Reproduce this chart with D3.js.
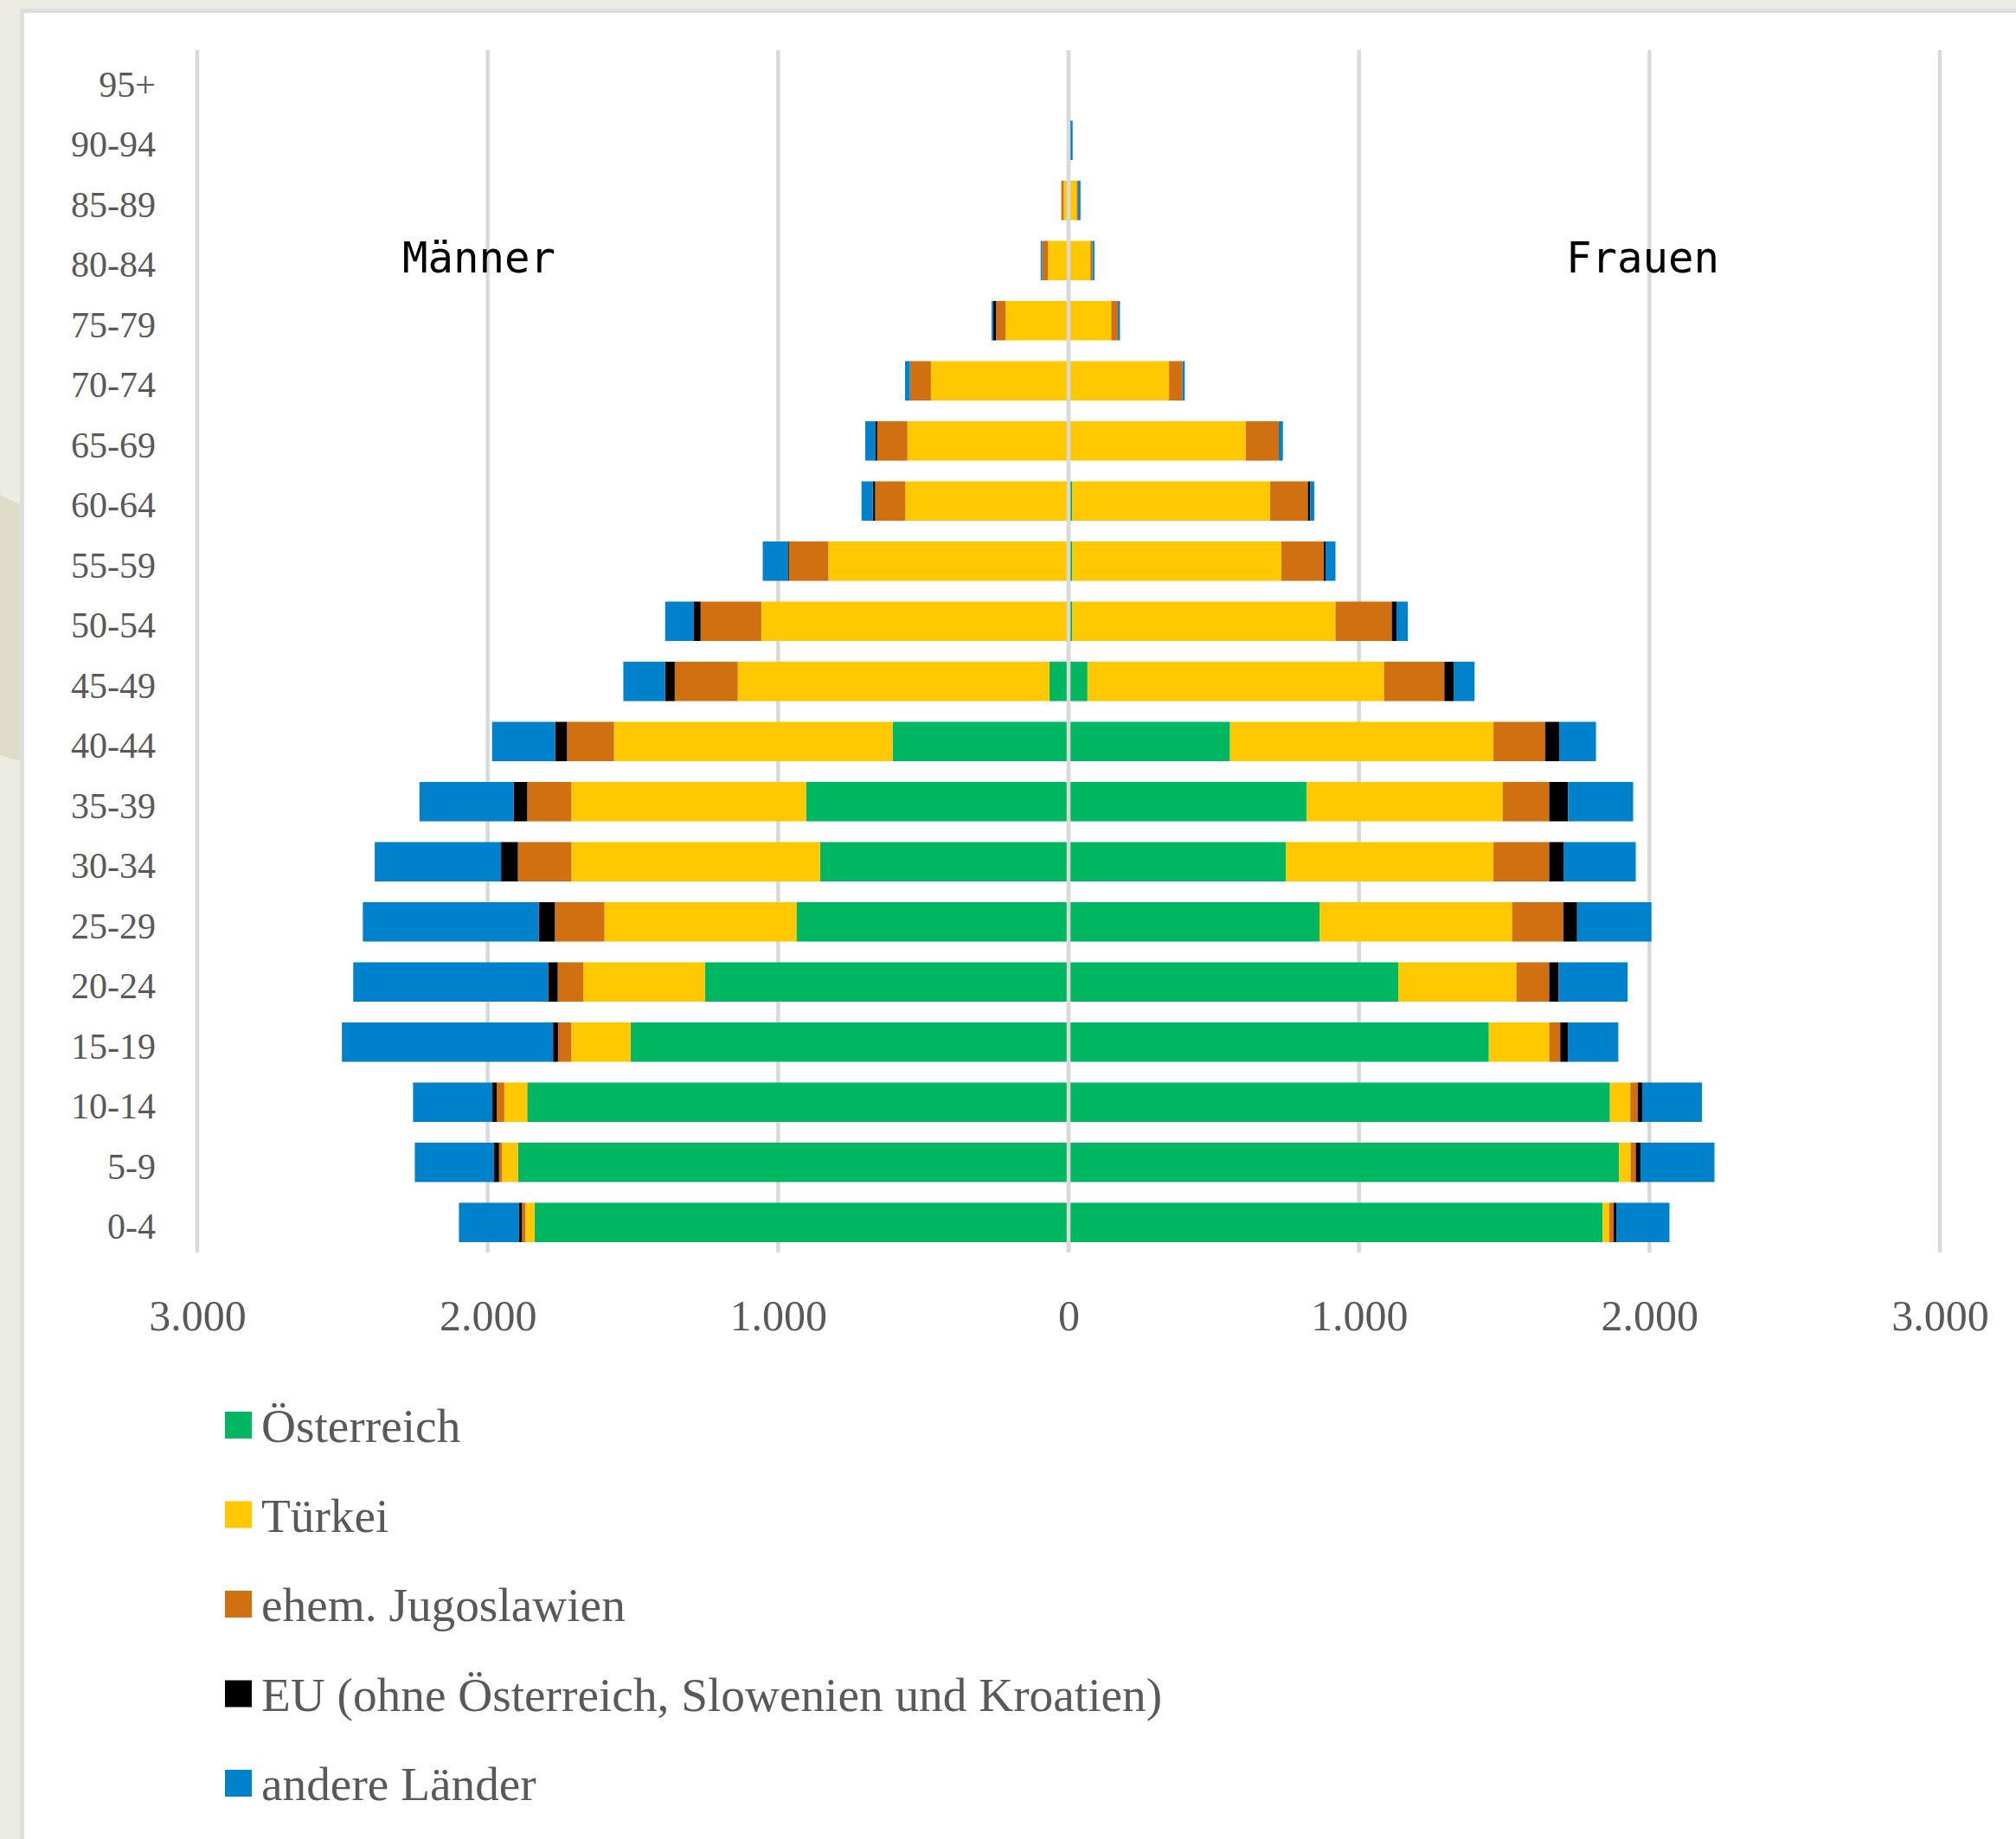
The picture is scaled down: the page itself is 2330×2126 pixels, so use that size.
<!DOCTYPE html>
<html>
<head>
<meta charset="utf-8">
<script src="https://cdn.jsdelivr.net/npm/d3@7"></script>
<style>
  html, body { margin: 0; padding: 0; background: #ECECE4; }
  svg { display: block; }
</style>
</head>
<body>
<svg id="chart" width="2330" height="2126"></svg>
<script>
// Age groups, youngest first
const ageGroups = ["0-4", "5-9", "10-14", "15-19", "20-24", "25-29", "30-34", "35-39", "40-44", "45-49",
                   "50-54", "55-59", "60-64", "65-69", "70-74", "75-79", "80-84", "85-89", "90-94", "95+"];

const seriesNames = ["Österreich", "Türkei", "ehem. Jugoslawien",
                     "EU (ohne Österreich, Slowenien und Kroatien)", "andere Länder"];
const seriesColors = ["#00B761", "#FFC800", "#D07010", "#000000", "#0081CB"];

// Männer, per age group (same order as ageGroups)
const menOesterreich = [1839, 1896, 1864, 1508, 1252, 937, 856, 904, 606, 66, 5, 0, 0, 0, 0, 0, 0, 0, 0, 0];
const menTuerkei     = [31, 55, 79, 204, 419, 661, 856, 808, 959, 1073, 1053, 827, 562, 555, 474, 217, 71, 17, 0, 0];
const menJugoslawien = [12, 10, 26, 46, 88, 171, 184, 152, 162, 217, 209, 136, 104, 104, 72, 33, 20, 8, 0, 0];
const menEU          = [10, 17, 15, 17, 33, 55, 58, 46, 41, 33, 23, 4, 8, 7, 0, 10, 0, 0, 0, 0];
const menAndere      = [207, 273, 273, 727, 671, 606, 435, 325, 217, 144, 99, 86, 39, 34, 17, 5, 5, 0, 0, 0];

// Frauen, per age group
const womenOesterreich = [1839, 1895, 1864, 1447, 1135, 864, 748, 820, 556, 65, 12, 12, 12, 0, 0, 0, 0, 0, 0, 0];
const womenTuerkei     = [23, 40, 70, 208, 407, 663, 715, 675, 907, 1021, 907, 721, 682, 610, 346, 147, 75, 28, 0, 0];
const womenJugoslawien = [15, 18, 26, 38, 113, 177, 192, 160, 178, 208, 194, 146, 130, 114, 46, 23, 7, 5, 0, 0];
const womenEU          = [9, 16, 15, 26, 32, 47, 49, 65, 48, 32, 16, 6, 8, 0, 0, 0, 0, 0, 0, 0];
const womenAndere      = [183, 255, 206, 174, 238, 256, 249, 224, 127, 72, 39, 34, 14, 14, 8, 7, 7, 8, 14, 0];

const xTicks = [-3000, -2000, -1000, 0, 1000, 2000, 3000];
const sideLabels = ["Männer", "Frauen"];

const menSeries = [menOesterreich, menTuerkei, menJugoslawien, menEU, menAndere];
const womenSeries = [womenOesterreich, womenTuerkei, womenJugoslawien, womenEU, womenAndere];

const svg = d3.select("#chart");
const W = 2330, H = 2126;

// ---- slide frame ----
svg.append("rect").attr("width", W).attr("height", H).attr("fill", "#ECECE4");
svg.append("path")
  .attr("d", "M0,572 L23,583 L23,880 L0,873 Z")
  .attr("fill", "#DFDDCA");
svg.append("rect").attr("x", 23).attr("y", 10).attr("width", W - 23).attr("height", H - 10).attr("fill", "#DDDDDD");
svg.append("rect").attr("x", 28).attr("y", 15).attr("width", W - 28).attr("height", H - 15).attr("fill", "#FFFFFF");

// ---- scales ----
const x = d3.scaleLinear().domain([-3000, 3000]).range([228, 2242]);
const y = d3.scaleBand()
  .domain(ageGroups.slice().reverse())
  .range([58, 1448])
  .paddingInner(0.345)
  .paddingOuter(0.1725);

const keys = seriesNames;
const color = d3.scaleOrdinal().domain(keys).range(seriesColors);

function rows(seriesArrays) {
  return ageGroups.map((age, i) => {
    const r = { age };
    keys.forEach((k, j) => { r[k] = seriesArrays[j][i]; });
    return r;
  });
}

const stack = d3.stack().keys(keys);
const menStack = stack(rows(menSeries));
const womenStack = stack(rows(womenSeries));

// ---- gridlines ----
const grid = svg.append("g");
grid.selectAll("line")
  .data(xTicks)
  .join("line")
  .attr("x1", d => x(d)).attr("x2", d => x(d))
  .attr("y1", 58).attr("y2", 1448)
  .attr("stroke", "#D9D9D9")
  .attr("stroke-width", 4.5);

// ---- bars ----
function drawSide(stacked, sign) {
  const g = svg.append("g");
  stacked.forEach(layer => {
    g.append("g")
      .attr("fill", color(layer.key))
      .selectAll("rect")
      .data(layer)
      .join("rect")
      .attr("x", d => sign > 0 ? x(d[0]) : x(-d[1]))
      .attr("width", d => Math.abs(x(d[1]) - x(d[0])))
      .attr("y", d => y(d.data.age))
      .attr("height", y.bandwidth());
  });
}
drawSide(menStack, -1);
drawSide(womenStack, 1);

// zero line over the bars
svg.append("line")
  .attr("x1", x(0)).attr("x2", x(0))
  .attr("y1", 58).attr("y2", 1448)
  .attr("stroke", "#D9D9D9")
  .attr("stroke-width", 4.5);

// ---- axes ----
const serif = "'Liberation Serif', 'DejaVu Serif', serif";
const fmt = d3.formatLocale({ decimal: ",", thousands: ".", grouping: [3], currency: ["", " €"] }).format(",d");

const yAxis = svg.append("g")
  .attr("transform", `translate(${x(-3000)},0)`)
  .call(d3.axisLeft(y).tickSize(0).tickPadding(48));
yAxis.select(".domain").remove();
yAxis.selectAll("text")
  .attr("dy", "0.45em")
  .attr("font-family", serif)
  .attr("font-size", 42)
  .attr("fill", "#595959");

const xAxis = svg.append("g")
  .attr("transform", "translate(0,1448)")
  .call(d3.axisBottom(x).tickValues(xTicks).tickFormat(d => fmt(Math.abs(d))).tickSize(0).tickPadding(0));
xAxis.select(".domain").remove();
xAxis.selectAll("text")
  .attr("y", 90)
  .attr("dy", 0)
  .attr("font-family", serif)
  .attr("font-size", 50)
  .attr("fill", "#595959");

// ---- side labels ----
const mono = "'DejaVu Sans Mono', 'Liberation Mono', monospace";
svg.append("text")
  .attr("x", 465).attr("y", 315)
  .attr("font-family", mono).attr("font-size", 49).attr("fill", "#000")
  .text(sideLabels[0]);
svg.append("text")
  .attr("x", 1810).attr("y", 315)
  .attr("font-family", mono).attr("font-size", 49).attr("fill", "#000")
  .text(sideLabels[1]);

// ---- legend ----
const legend = svg.append("g");
const legendItems = legend.selectAll("g")
  .data(keys)
  .join("g")
  .attr("transform", (d, i) => `translate(260,${1667 + i * 103.5})`);
legendItems.append("rect")
  .attr("x", 0).attr("y", -35)
  .attr("width", 31).attr("height", 31)
  .attr("fill", d => color(d));
legendItems.append("text")
  .attr("x", 42).attr("y", 0)
  .attr("font-family", serif)
  .attr("font-size", 55.3)
  .attr("fill", "#595959")
  .text(d => d);
</script>
</body>
</html>
